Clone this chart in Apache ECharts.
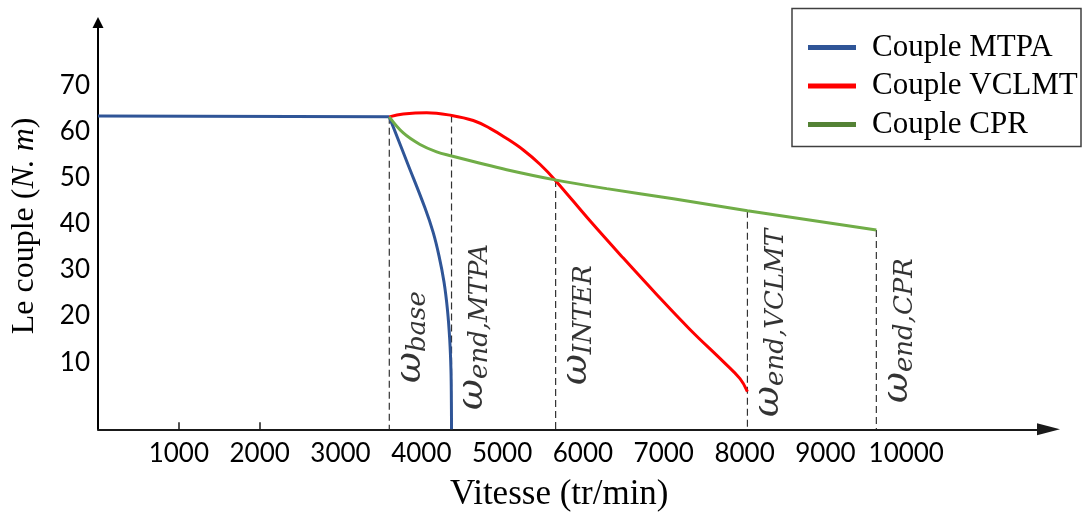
<!DOCTYPE html>
<html>
<head>
<meta charset="utf-8">
<script src="https://cdn.jsdelivr.net/npm/echarts@6/dist/echarts.min.js"></script>
<style>
html,body{margin:0;padding:0;background:#fff;}
#chart{width:1083px;height:519px;}
</style>
</head>
<body>
<div id="chart"></div>
<script>
// ---------- data ----------
const xTickLabels = [1000, 2000, 3000, 4000, 5000, 6000, 7000, 8000, 9000, 10000];
const xTickMarks = [1000, 2000];
const yTickLabels = [10, 20, 30, 40, 50, 60, 70];

// Couple MTPA : constant part, then the drop
const mtpaFlatSpeed  = [0, 3604];
const mtpaFlatTorque = [63.5, 63.3];
const mtpaDropSpeed  = [3604, 3823, 4046, 4145, 4219, 4281, 4324, 4352, 4367, 4372, 4374];
const mtpaDropTorque = [63.3, 53.5, 43.5, 38.3, 33.1, 27.4, 21.3, 14.8, 8.3, 1.8, -4.6];

// Couple VCLMT
const vclmtSpeed  = [3604, 3777, 4067, 4376, 4643, 4850, 5056, 5262, 5468, 5654, 6087, 6499, 6912, 7324, 7736, 7943, 8035];
const vclmtTorque = [63.3, 63.9, 64.2, 63.6, 62.5, 60.8, 58.6, 56.1, 53.0, 49.6, 40.7, 32.6, 24.7, 17.1, 10.1, 6.4, 3.6];

// Couple CPR
const cprSpeed  = [3604, 3777, 3984, 4190, 4376, 4643, 5056, 5654, 6294, 7118, 8035, 9630];
const cprTorque = [63.3, 59.8, 57.3, 55.7, 54.8, 53.6, 51.8, 49.6, 47.7, 45.5, 42.9, 38.7];

// characteristic speeds (dashed lines)
const markerSpeeds = [3604, 4374, 5662, 8035, 9630];
const markerTops   = [63.3, 63.6, 49.6, 42.9, 38.7];
const markerSubs   = ['base', 'end,MTPA', 'INTER', 'end,VCLMT', 'end,CPR'];

const seriesNames = ['Couple MTPA', 'Couple VCLMT', 'Couple CPR'];

// ---------- layout (not data) ----------
const Y_MIN = -4.6, Y_MAX = 83.8, X_MIN = 0, X_MAX = 11760;
const labelShift = 272;                           // speed units to the right of each dashed line
const labelBottom = [5.45, -0.4, 5.0, -1.9, 1.1]; // where each rotated label starts

const zip = (a, b) => a.map((v, i) => [v, b[i]]);

const mtpaData = zip(mtpaFlatSpeed, mtpaFlatTorque)
  .concat([[mtpaFlatSpeed[1], '-']])
  .concat(zip(mtpaDropSpeed, mtpaDropTorque));

let markerData = [];
markerSpeeds.forEach((s, i) => {
  markerData.push([s, markerTops[i]], [s, Y_MIN], [s, '-']);
});

const omegaLabels = markerSpeeds.map((s, i) => ({
  value: [s + labelShift, labelBottom[i]],
  label: { formatter: '{w|ω}{s|' + markerSubs[i] + '}' }
}));

const chart = echarts.init(document.getElementById('chart'), null, { renderer: 'canvas' });

const option = {
  animation: false,
  backgroundColor: '#ffffff',
  grid: { left: 98, right: 34.5, top: 22.5, bottom: 89.7, containLabel: false },
  legend: {
    data: [
      { name: seriesNames[0] },
      { name: seriesNames[1] },
      { name: seriesNames[2], itemStyle: { color: '#548235' } }
    ],
    orient: 'vertical',
    left: 808,
    top: 32,
    padding: 0,
    itemWidth: 48,
    itemHeight: 5,
    itemGap: 7.5,
    icon: 'rect',
    selectedMode: false,
    textStyle: {
      fontFamily: 'Liberation Serif',
      fontSize: 31,
      lineHeight: 31,
      color: '#000',
      padding: [0, 0, 0, 11]
    }
  },
  graphic: [{
    type: 'rect',
    shape: { x: 792, y: 8.5, width: 289, height: 138 },
    style: { fill: 'none', stroke: '#404040', lineWidth: 1.5 },
    silent: true
  }],
  xAxis: {
    type: 'value',
    min: X_MIN,
    max: X_MAX,
    name: 'Vitesse (tr/min)',
    nameLocation: 'middle',
    nameGap: 48,
    nameTextStyle: {
      fontFamily: 'Liberation Serif',
      fontSize: 35,
      color: '#000',
      padding: [0, 28, 0, 0]
    },
    splitLine: { show: false },
    axisLine: {
      onZero: false,
      symbol: ['none', 'triangle'],
      symbolSize: [12, 23],
      lineStyle: { color: '#1a1a1a', width: 2 }
    },
    axisTick: {
      show: true,
      customValues: xTickMarks,
      inside: true,
      length: 7,
      lineStyle: { color: '#1a1a1a', width: 1.5 }
    },
    axisLabel: {
      customValues: xTickLabels,
      formatter: v => String(v),
      fontFamily: 'Lato',
      fontSize: 26,
      color: '#000',
      margin: 11
    }
  },
  yAxis: {
    type: 'value',
    min: Y_MIN,
    max: Y_MAX,
    name: '{n|Le couple (}{i|N. m}{n|)}',
    nameLocation: 'middle',
    nameGap: 57,
    nameTextStyle: {
      rich: {
        n: { fontFamily: 'Liberation Serif', fontSize: 32, color: '#000' },
        i: { fontFamily: 'Liberation Serif', fontStyle: 'italic', fontSize: 32, color: '#000' }
      }
    },
    splitLine: { show: false },
    axisLine: {
      symbol: ['none', 'triangle'],
      symbolSize: [11, 11],
      lineStyle: { color: '#000', width: 2 }
    },
    axisTick: { show: false },
    axisLabel: {
      customValues: yTickLabels,
      formatter: v => String(v),
      fontFamily: 'Lato',
      fontSize: 26,
      color: '#000',
      margin: 8
    }
  },
  series: [
    {
      name: 'markers',
      type: 'line',
      data: markerData,
      symbol: 'none',
      silent: true,
      z: 1,
      lineStyle: { color: '#333333', width: 1.2, type: [7, 4] }
    },
    {
      name: seriesNames[0],
      type: 'line',
      data: mtpaData,
      smooth: 0.4,
      symbol: 'none',
      z: 3,
      color: '#2F5597',
      lineStyle: { color: '#2F5597', width: 3 }
    },
    {
      name: seriesNames[1],
      type: 'line',
      data: zip(vclmtSpeed, vclmtTorque),
      smooth: 0.4,
      symbol: 'none',
      z: 3,
      color: '#FF0000',
      lineStyle: { color: '#FF0000', width: 3 }
    },
    {
      name: seriesNames[2],
      type: 'line',
      data: zip(cprSpeed, cprTorque),
      smooth: 0.4,
      symbol: 'none',
      z: 4,
      color: '#70AD47',
      lineStyle: { color: '#70AD47', width: 3 }
    },
    {
      name: 'labels',
      type: 'scatter',
      data: omegaLabels,
      symbolSize: 0,
      silent: true,
      z: 5,
      label: {
        show: true,
        position: 'inside',
        rotate: 90,
        align: 'left',
        verticalAlign: 'middle',
        rich: {
          w: { fontFamily: 'DejaVu Serif', fontStyle: 'italic', fontSize: 38, lineHeight: 40, verticalAlign: 'top', color: '#000' },
          s: { fontFamily: 'DejaVu Serif', fontStyle: 'italic', fontSize: 26, lineHeight: 28, verticalAlign: 'bottom', color: '#000' }
        }
      }
    }
  ]
};

chart.setOption(option);
</script>
</body>
</html>
